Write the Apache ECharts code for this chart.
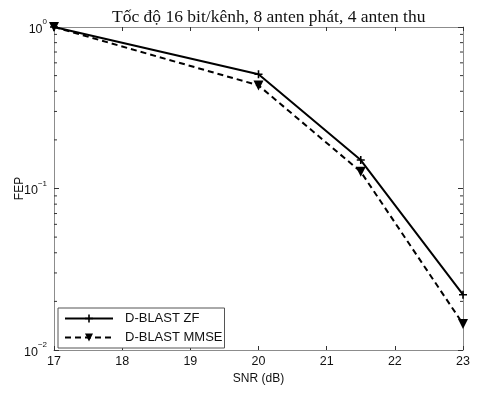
<!DOCTYPE html>
<html><head><meta charset="utf-8">
<script src="https://cdn.jsdelivr.net/npm/echarts@6/dist/echarts.min.js"></script>
<style>html,body{margin:0;padding:0;background:#fff}#c{width:483px;height:393px}</style>
</head><body><div id="c"></div>
<script>
const titleText = 'Tốc độ 16 bit/kênh, 8 anten phát, 4 anten thu';
const xLabel = 'SNR (dB)';
const yLabel = 'FEP';
const snr = [17, 20, 21.5, 23];
const zfName = 'D-BLAST ZF';
const zfValues = [1.0, 0.51, 0.15, 0.022];
const mmseName = 'D-BLAST MMSE';
const mmseValues = [1.0, 0.435, 0.127, 0.0145];
const xTicks = [17, 18, 19, 20, 21, 22, 23];
const yMinorTicks = [0.02,0.03,0.04,0.05,0.06,0.07,0.08,0.09,0.2,0.3,0.4,0.5,0.6,0.7,0.8,0.9];

const chart = echarts.init(document.getElementById('c'), null, {renderer:'canvas'});
const sans = 'Liberation Sans, Arial, sans-serif';
const axisGray = '#8c8c8c';
const plusPath = 'path://M-1,-5H1V-1H5V1H1V5H-1V1H-5V-1H-1Z';

chart.setOption({
  animation:false,
  backgroundColor:'#fff',
  title:{text:titleText,left:107,top:3,textStyle:{fontFamily:'Liberation Serif, Times New Roman, serif',fontSize:17.5,fontWeight:'normal',color:'#111'}},
  grid:{left:54,right:20,top:27,bottom:43,containLabel:false,outerBoundsMode:'none'},
  legend:{
    data:[zfName,mmseName],orient:'vertical',left:58,top:308,
    backgroundColor:'#fff',borderColor:'#555',borderWidth:1,padding:[4,2,4,6],
    itemWidth:48,itemHeight:10,itemGap:6,
    textStyle:{fontFamily:sans,fontSize:13,color:'#111',padding:[0,0,0,7]}
  },
  xAxis:[{
    type:'value',min:17,max:23,interval:1,
    name:xLabel,nameLocation:'middle',nameGap:20,nameTextStyle:{fontFamily:sans,fontSize:12,color:'#111'},
    axisLine:{show:true,lineStyle:{color:axisGray,width:1}},
    axisTick:{show:true,inside:true,length:4,lineStyle:{color:'#333'}},
    axisLabel:{fontFamily:sans,fontSize:12.5,color:'#111',margin:5,formatter:v=>xTicks.includes(v)?String(v):''},
    splitLine:{show:false}
  },{
    type:'value',min:17,max:23,interval:1,position:'top',
    axisLine:{show:true,lineStyle:{color:axisGray,width:1}},
    axisTick:{show:true,inside:true,length:4,lineStyle:{color:'#333'}},
    axisLabel:{show:false},splitLine:{show:false}
  }],
  yAxis:[{
    type:'log',logBase:10,min:0.01,max:1,
    name:yLabel,nameLocation:'middle',nameGap:28,nameMoveOverlap:false,nameTextStyle:{fontFamily:sans,fontSize:12,color:'#111'},
    axisLine:{show:true,lineStyle:{color:axisGray,width:1}},
    axisTick:{show:true,inside:true,length:5,lineStyle:{color:'#333'}},
    axisLabel:{margin:7,formatter:v=>'{b|10}{s|'+Math.round(Math.log10(v)).toString().replace('-','\u2212')+'}',
      rich:{b:{fontFamily:sans,fontSize:12.5,color:'#111',verticalAlign:'bottom'},s:{fontFamily:sans,fontSize:8,color:'#111',verticalAlign:'top',padding:[0,0,10,0]}}},
    splitLine:{show:false}
  },{
    type:'log',logBase:10,min:0.01,max:1,position:'right',
    axisLine:{show:true,lineStyle:{color:axisGray,width:1}},
    axisTick:{show:true,inside:true,length:5,lineStyle:{color:'#333'}},
    axisLabel:{show:false},splitLine:{show:false}
  }],
  series:[
    {
      type:'custom',name:'minor',silent:true,clip:false,xAxisIndex:0,yAxisIndex:0,
      data:yMinorTicks.map(v=>[17,v]),
      renderItem:(params,api)=>{
        const v=api.value(1);
        const p=api.coord([17,v]); const q=api.coord([23,v]);
        return {type:'group',children:[
          {type:'line',shape:{x1:p[0],y1:p[1],x2:p[0]+3,y2:p[1]},style:{stroke:'#333',lineWidth:1}},
          {type:'line',shape:{x1:q[0]-3,y1:q[1],x2:q[0],y2:q[1]},style:{stroke:'#333',lineWidth:1}}
        ]};
      },
      z:1
    },
    {
      name:zfName,type:'line',data:snr.map((x,i)=>[x,zfValues[i]]),
      symbol:plusPath,symbolSize:8,showAllSymbol:true,clip:false,
      lineStyle:{color:'#000',width:2,type:'solid'},
      itemStyle:{color:'#000'},z:3
    },
    {
      name:mmseName,type:'line',data:snr.map((x,i)=>[x,mmseValues[i]]),
      symbol:'triangle',symbolRotate:180,symbolSize:10,showAllSymbol:true,clip:false,
      lineStyle:{color:'#000',width:2,type:[6,4]},
      itemStyle:{color:'#000'},z:3
    }
  ]
});
</script></body></html>
